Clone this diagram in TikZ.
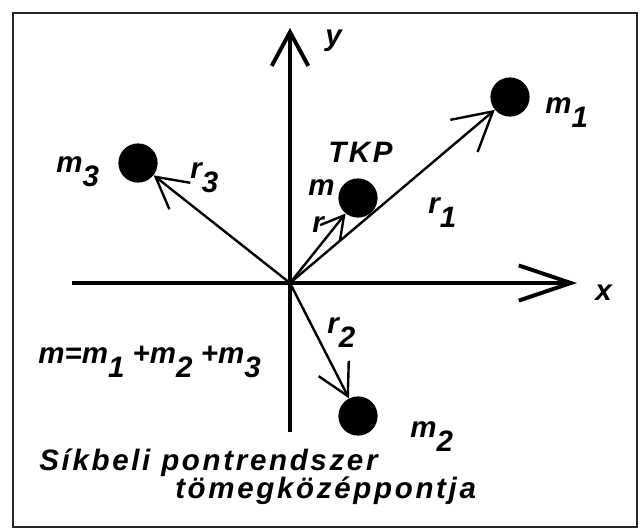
\documentclass[tikz,border=0pt]{standalone}
\usepackage{fontspec}
\newfontfamily\lblfont{Liberation Sans Bold Italic}[LetterSpace=9]
\newfontfamily\eqfont{Liberation Sans Bold Italic}
\usetikzlibrary{arrows.meta}

\newcommand{\idx}[2]{#1\raisebox{-0.5em}{#2}}

\tikzset{
  lbl/.style={font=\lblfont\fontsize{21}{24}\selectfont, inner sep=0pt, anchor=base west},
  mass/.style={circle, fill=black, minimum size=0.98cm, inner sep=0pt},
  vec/.style={line width=1.7pt, -{Straight Barb[length=22pt,width=24pt]}},
  axis/.style={line width=2.8pt},
}

\begin{document}
\begin{tikzpicture}[x=0.025cm, y=-0.025cm]
    \useasboundingbox (0,0) rectangle (644,529);
    % Frame
    \draw[line width=2pt, black!85] (13,13) rectangle (637,527);

    % Axes
    \coordinate (O) at (290,283);
    \coordinate (xs) at (72,283);
    \coordinate (xe) at (577,283);
    \coordinate (ys) at (290,432);
    \coordinate (ye) at (290,28);
    \draw[axis, -{Straight Barb[length=37pt,width=25pt]}] (xs) -- (xe);
    \draw[axis, -{Straight Barb[length=24pt,width=26pt]}] (ys) -- (ye);
    \node[lbl] (lx) at (595,300) {x};
    \node[lbl] (ly) at (325,45) {y};

    % Labels
    \node[lbl] (lm1) at (545,113) {\idx{m}{1}};
    \node[lbl] (lr1) at (428,213) {\idx{r}{1}};
    \node[lbl] (lm2) at (410,437) {\idx{m}{2}};
    \node[lbl] (lr2) at (327,333) {\idx{r}{2}};
    \node[lbl] (lm3) at (56,172) {\idx{m}{3}};
    \node[lbl] (lr3) at (190,178) {\idx{r}{3}};
    \node[lbl] (ltkp) at (328,162) {TKP};
    \node[lbl] (lm) at (308,195) {m};
    \node[lbl] (lr) at (312,232) {r};

    % Masses
    \node[mass] (m1) at (510,97) {};
    \node[mass] (m2) at (358,416) {};
    \node[mass] (m3) at (138,163) {};
    \node[mass] (mc) at (358,198) {};

    % Position vectors
    \draw[vec, -{Straight Barb[length=27pt,width=30pt]}] (O) -- (m1);
    \draw[vec] (O) -- (m2);
    \draw[vec] (O) -- (m3);
    \draw[vec, -{Straight Barb[length=16pt,width=18pt]}] (O) -- (mc);

    % Texts
    \node[lbl, font=\eqfont\fontsize{21}{24}\selectfont] (sum) at (38,363) {m=\idx{m}{1} +\idx{m}{2} +\idx{m}{3}};
    \node[lbl] (t1) at (39,470) {Síkbeli pontrendszer};
    \node[lbl] (t2) at (175,498) {tömegközéppontja};
\end{tikzpicture}
\end{document}
